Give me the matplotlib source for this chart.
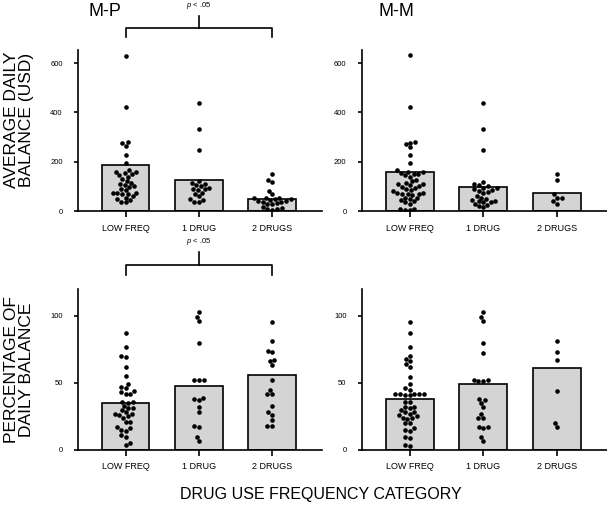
import numpy as np
import pandas as pd
import matplotlib
matplotlib.use("Agg")
import matplotlib.pyplot as plt
import seaborn as sns

plt.rcParams['font.family'] = ['Liberation Sans', 'DejaVu Sans']
plt.rcParams['mathtext.fontset'] = 'custom'
plt.rcParams['mathtext.it'] = 'Liberation Sans:italic'
plt.rcParams['mathtext.rm'] = 'Liberation Sans'

categories = ["LOW FREQ", "1 DRUG", "2 DRUGS"]

# average daily balance (USD), M-P
mp_bal_bars = [188, 126, 50]
mp_bal_low = [630, 422, 282, 276, 265, 228, 194, 165, 160, 158, 155, 150, 145, 140, 130,
              122, 115, 110, 105, 100, 98, 90, 85, 75, 72, 72, 70, 68, 60, 55, 50, 45, 38, 35]
mp_bal_one = [440, 332, 248, 120, 115, 110, 105, 100, 95, 90, 88, 85, 75, 70, 60, 50, 45, 38, 35]
mp_bal_two = [152, 128, 118, 82, 68, 55, 52, 52, 50, 48, 45, 42, 40, 38, 35, 32, 30, 28,
              15, 12, 10, 8, 5]

# average daily balance (USD), M-M
mm_bal_bars = [160, 99, 74]
mm_bal_low = [632, 423, 282, 278, 270, 258, 228, 195, 165, 160, 158, 155, 152, 150, 145, 140,
              125, 122, 115, 110, 108, 105, 100, 98, 95, 90, 85, 80, 75, 72, 70, 70, 68, 65,
              55, 52, 50, 45, 40, 35, 30, 10, 8, 5, 5]
mm_bal_one = [440, 332, 248, 118, 108, 105, 100, 95, 92, 88, 85, 82, 78, 75, 60, 55, 50, 45,
              42, 40, 38, 35, 30, 25, 20, 15]
mm_bal_two = [152, 125, 70, 55, 55, 40, 30]

# percentage of daily balance, M-P
mp_pct_bars = [35.3, 47.8, 55.7]
mp_pct_low = [87, 77, 70, 69, 62, 55, 49, 47, 46, 44, 43, 42, 42, 36, 36, 35, 33, 31, 31, 30,
              28, 27, 27, 26, 25, 24, 21, 21, 17, 16, 15, 14, 11, 10, 5, 4]
mp_pct_one = [103, 99, 96, 80, 52, 52, 52, 39, 38, 37, 32, 28, 18, 17, 10, 7]
mp_pct_two = [95, 81, 74, 73, 67, 66, 63, 52, 45, 42, 42, 33, 28, 26, 22, 18, 18]

# percentage of daily balance, M-M
mm_pct_bars = [38.3, 48.8, 61]
mm_pct_low = [95, 87, 77, 70, 68, 66, 64, 62, 54, 49, 46, 45, 42, 42, 42, 42, 42, 41, 41, 36,
              36, 32, 32, 31, 30, 28, 28, 27, 26, 25, 24, 24, 23, 20, 20, 16, 15, 14, 10, 9, 4, 3]
mm_pct_one = [103, 99, 96, 80, 72, 52, 52, 51, 51, 38, 37, 35, 32, 27, 24, 24, 17, 17, 16, 10, 7]
mm_pct_two = [81, 73, 67, 44, 20, 17]

fig = plt.figure(figsize=(6.07, 5.05), dpi=100)


def panel(rect, bars, groups, ylim, yticks):
    ax = fig.add_axes(rect)
    ax.bar(range(3), bars, width=0.65, color="#d4d4d4", edgecolor="black", linewidth=1.2, zorder=1)
    df = pd.DataFrame({"cat": np.repeat(categories, [len(g) for g in groups]),
                       "val": np.concatenate(groups)})
    sns.swarmplot(data=df, x="cat", y="val", order=categories, color="black", size=3.3,
                  linewidth=0, ax=ax, zorder=3)
    ax.set_xlabel("")
    ax.set_ylabel("")
    ax.set_xlim(-0.65, 2.68)
    ax.set_ylim(*ylim)
    ax.set_xticks(range(3))
    ax.set_xticklabels(categories, fontsize=6.5)
    ax.set_yticks(yticks)
    ax.set_yticklabels([str(t) for t in yticks], fontsize=5.5)
    ax.tick_params(axis="x", length=4, width=1.2, pad=5)
    ax.tick_params(axis="y", length=3, width=1.2, pad=8)
    for s in ["top", "right"]:
        ax.spines[s].set_visible(False)
    for s in ["left", "bottom"]:
        ax.spines[s].set_linewidth(1.2)
    ax.patch.set_alpha(0)
    return ax


def bracket(ax, y_h, y_leg, y_top, y_text):
    ax.plot([0, 0, 2, 2], [y_leg, y_h, y_h, y_leg], color="black", lw=1.2, clip_on=False)
    ax.plot([1, 1], [y_h, y_top], color="black", lw=1.2, clip_on=False)
    ax.text(1, y_text, r"$p$ < .05", ha="center", va="center", fontsize=5.5, clip_on=False)


ax1 = panel([0.1285, 0.582, 0.402, 0.319], mp_bal_bars, [mp_bal_low, mp_bal_one, mp_bal_two],
            (0, 653), [0, 200, 400, 600])
ax2 = panel([0.596, 0.582, 0.404, 0.319], mm_bal_bars, [mm_bal_low, mm_bal_one, mm_bal_two],
            (0, 653), [0, 200, 400, 600])
ax3 = panel([0.1285, 0.109, 0.402, 0.319], mp_pct_bars, [mp_pct_low, mp_pct_one, mp_pct_two],
            (0, 120), [0, 50, 100])
ax4 = panel([0.596, 0.109, 0.404, 0.319], mm_pct_bars, [mm_pct_low, mm_pct_one, mm_pct_two],
            (0, 120), [0, 50, 100])

bracket(ax1, 742, 705, 790, 832)
bracket(ax3, 138, 130.6, 147.8, 155)

fig.text(88 / 607, 1 - 12 / 505, "M-P", fontsize=13, ha="left", va="center")
fig.text(378 / 607, 1 - 12 / 505, "M-M", fontsize=13, ha="left", va="center")

fig.text(19 / 607, 1 - 120 / 505, "AVERAGE DAILY\nBALANCE (USD)", fontsize=12.5, rotation=90,
         ha="center", va="center", linespacing=1.0)
fig.text(19 / 607, 1 - 370 / 505, "PERCENTAGE OF\nDAILY BALANCE", fontsize=12.5, rotation=90,
         ha="center", va="center", linespacing=1.0)
fig.text(321 / 607, 1 - 495 / 505, "DRUG USE FREQUENCY CATEGORY", fontsize=11.5,
         ha="center", va="center")

fig.savefig("out.png", dpi=100)
